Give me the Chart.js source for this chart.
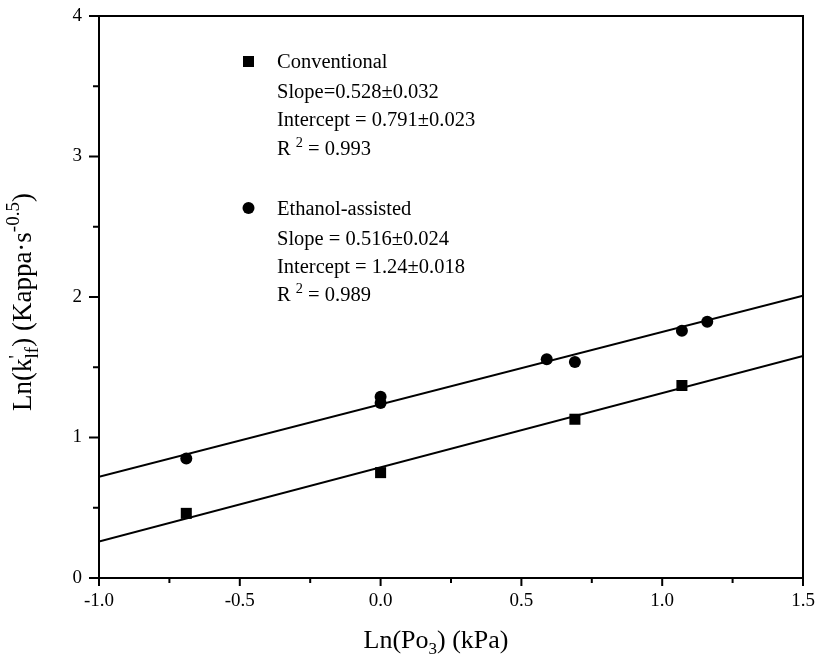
<!DOCTYPE html>
<html>
<head>
<meta charset="utf-8">
<script src="https://cdn.jsdelivr.net/npm/chart.js@4"></script>
<style>
  html, body { margin: 0; padding: 0; background: #fff; }
  #wrap { width: 819px; height: 668px; position: relative; }
</style>
</head>
<body>
<div id="wrap"><canvas id="c" width="819" height="668"></canvas></div>
<script>
// --- data ---
const convX = [-0.69, 0.0, 0.69, 1.07];
const convY = [0.46, 0.75, 1.13, 1.37];
const ethX = [-0.69, 0.0, 0.0, 0.59, 0.69, 1.07, 1.16];
const ethY = [0.85, 1.29, 1.245, 1.557, 1.537, 1.76, 1.824];
// fitted lines (end points at the axis limits)
const convFitX = [-1.0, 1.5];
const convFitY = [0.26, 1.58];
const ethFitX = [-1.0, 1.5];
const ethFitY = [0.72, 2.01];

const xTicks = [-1.0, -0.5, 0.0, 0.5, 1.0, 1.5];
const xTickLabels = ["-1.0", "-0.5", "0.0", "0.5", "1.0", "1.5"];
const xMinor = [-0.75, -0.25, 0.25, 0.75, 1.25];
const yTicks = [0, 1, 2, 3, 4];
const yTickLabels = ["0", "1", "2", "3", "4"];
const yMinor = [0.5, 1.5, 2.5, 3.5];

const convNotes = ["Conventional", "Slope=0.528\u00b10.032", "Intercept = 0.791\u00b10.023", "R|2| = 0.993"];
const ethNotes = ["Ethanol-assisted", "Slope = 0.516\u00b10.024", "Intercept = 1.24\u00b10.018", "R|2| = 0.989"];

const SERIF = '"Liberation Serif", "DejaVu Serif", serif';
const pts = (xs, ys) => xs.map((x, i) => ({ x, y: ys[i] }));

// draw text made of pieces: {t, dy, size, stay}
function rich(ctx, parts, x, y, align) {
  let w = 0;
  parts.forEach((p) => { ctx.font = p.size + "px " + SERIF; if (!p.stay) w += ctx.measureText(p.t).width; });
  let cx = align === "center" ? x - w / 2 : x;
  ctx.textAlign = "left"; ctx.textBaseline = "alphabetic";
  parts.forEach((p) => {
    ctx.font = p.size + "px " + SERIF;
    ctx.fillText(p.t, cx, y + (p.dy || 0));
    if (!p.stay) cx += ctx.measureText(p.t).width;
  });
}
// "R|2| = 0.993" -> superscript 2
function note(s, size) {
  const parts = s.split("|");
  if (parts.length === 1) return [{ t: s, size }];
  return [{ t: parts[0] + " ", size }, { t: parts[1], size: size * 0.7, dy: -size * 0.4 }, { t: " " + parts[2].trim(), size }];
}

const decor = {
  id: "decor",
  afterDraw(chart) {
    const { ctx, chartArea: a, scales } = chart;
    const xs = scales.x, ys = scales.y;
    ctx.save();
    ctx.strokeStyle = "#000"; ctx.fillStyle = "#000";
    // frame
    ctx.lineWidth = 2;
    ctx.strokeRect(a.left, a.top, a.right - a.left, a.bottom - a.top);
    // ticks, outward
    ctx.beginPath();
    xTicks.forEach((v) => { const p = xs.getPixelForValue(v); ctx.moveTo(p, a.bottom); ctx.lineTo(p, a.bottom + 8); });
    xMinor.forEach((v) => { const p = xs.getPixelForValue(v); ctx.moveTo(p, a.bottom); ctx.lineTo(p, a.bottom + 5); });
    yTicks.forEach((v) => { const p = ys.getPixelForValue(v); ctx.moveTo(a.left, p); ctx.lineTo(a.left - 10, p); });
    yMinor.forEach((v) => { const p = ys.getPixelForValue(v); ctx.moveTo(a.left, p); ctx.lineTo(a.left - 6, p); });
    ctx.stroke();

    // axis titles
    rich(ctx, [
      { t: "Ln(Po", size: 26 },
      { t: "3", size: 17, dy: 6 },
      { t: ") (kPa)", size: 26 },
    ], 436, 648, "center");
    ctx.save();
    ctx.translate(31, 302);
    ctx.rotate(-Math.PI / 2);
    rich(ctx, [
      { t: "Ln(k", size: 27 },
      { t: "'", size: 19, dy: -9, stay: true },
      { t: "lf", size: 19, dy: 7 },
      { t: ") (Kappa\u00b7s", size: 27 },
      { t: "-0.5", size: 19, dy: -12 },
      { t: ")", size: 27 },
    ], 0, 0, "center");
    ctx.restore();

    // annotation block
    const tx = 277, size = 20.5;
    const convRows = [68, 98, 126, 155];
    const ethRows = [215, 245, 273, 301];
    convNotes.forEach((s, i) => rich(ctx, note(s, size), tx, convRows[i], "left"));
    ethNotes.forEach((s, i) => rich(ctx, note(s, size), tx, ethRows[i], "left"));
    ctx.fillRect(243, 56, 11, 11);
    ctx.beginPath(); ctx.arc(248.5, 208, 6, 0, Math.PI * 2); ctx.fill();
    ctx.restore();
  },
};

new Chart(document.getElementById("c"), {
  type: "scatter",
  data: {
    datasets: [
      { label: "Conventional fit", data: pts(convFitX, convFitY), showLine: true, pointRadius: 0, borderColor: "#000", borderWidth: 2 },
      { label: "Ethanol fit", data: pts(ethFitX, ethFitY), showLine: true, pointRadius: 0, borderColor: "#000", borderWidth: 2 },
      { label: "Conventional", data: pts(convX, convY), pointStyle: "rect", pointRadius: 7.8, backgroundColor: "#000", borderColor: "#000", borderWidth: 0 },
      { label: "Ethanol-assisted", data: pts(ethX, ethY), pointStyle: "circle", pointRadius: 6, backgroundColor: "#000", borderColor: "#000", borderWidth: 0 },
    ],
  },
  options: {
    responsive: false,
    animation: false,
    layout: { padding: { left: 0, right: 16, top: 16, bottom: 0 } },
    plugins: { legend: { display: false }, tooltip: { enabled: false } },
    scales: {
      x: {
        type: "linear", min: -1, max: 1.5,
        afterBuildTicks: (s) => { s.ticks = xTicks.map((v) => ({ value: v })); },
        afterFit: (s) => { s.height = 90; s.paddingLeft = 0; s.paddingRight = 0; },
        grid: { display: false, drawTicks: false },
        border: { display: false },
        ticks: { color: "#000", padding: 12, maxRotation: 0, font: { family: SERIF, size: 19 },
          callback: (v) => xTickLabels[xTicks.indexOf(v)] ?? "" },
      },
      y: {
        type: "linear", min: 0, max: 4,
        afterBuildTicks: (s) => { s.ticks = yTicks.map((v) => ({ value: v })); },
        afterFit: (s) => { s.width = 99; s.paddingTop = 0; s.paddingBottom = 0; },
        grid: { display: false, drawTicks: false },
        border: { display: false },
        ticks: { color: "#000", padding: 17, font: { family: SERIF, size: 19 },
          callback: (v) => yTickLabels[yTicks.indexOf(v)] ?? "" },
      },
    },
  },
  plugins: [decor],
});
</script>
</body>
</html>
